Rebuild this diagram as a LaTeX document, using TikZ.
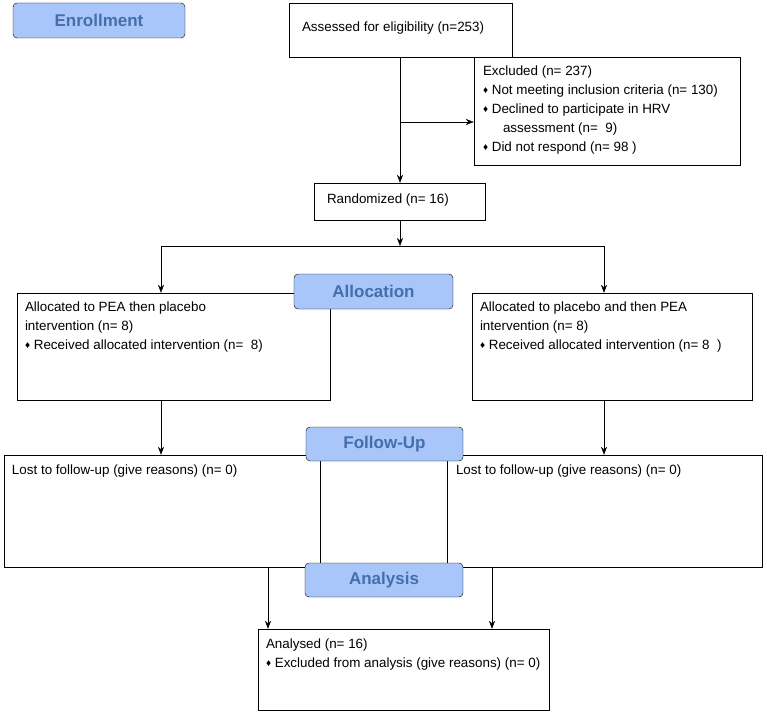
\documentclass[tikz,border=0pt]{standalone}
\usepackage{fontspec}
\setmainfont{Liberation Sans}
\usetikzlibrary{arrows.meta,calc}
\definecolor{stagefill}{RGB}{168,198,250}
\definecolor{stagetext}{RGB}{70,110,170}
\newcommand{\dia}{{\fontsize{10}{10}\selectfont\raisebox{1pt}{♦}}\ }

\begin{document}
\begin{tikzpicture}
  [
    x=1pt, y=-1pt,
    box/.style =
      {draw, rectangle, inner sep=0pt},
    txt/.style =
      {anchor=north west, align=left, inner sep=0pt, font=\fontsize{13.4}{19}\selectfont},
    stage/.style =
      {draw, rounded corners=4pt, fill=stagefill, inner sep=0pt,
       font=\fontsize{17}{19}\selectfont\bfseries, text=stagetext},
    arr/.style =
      {-{Stealth[length=8pt,width=6pt]}}
  ]

\useasboundingbox (0,0) rectangle (767,714);

% stage labels
\node[stage, minimum width=172pt, minimum height=35pt] (enrol) at (99,20.5) {Enrollment};

% boxes
\node[box, minimum width=223pt, minimum height=54pt] (assess) at (400.5,30) {};
\node[txt] (assesst) at ($(assess.west)+(13,-8)$) {Assessed for eligibility (n=253)};

\node[box, minimum width=266pt, minimum height=108pt] (excl) at (607,111) {};
\node[txt] (exclt) at ($(excl.north west)+(9,9)$)
  {Excluded (n= 237)\\
   \dia Not meeting inclusion criteria (n= 130)\\
   \dia Declined to participate in HRV\\
   \hspace*{20pt}assessment (n=~ 9)\\
   \dia Did not respond (n= 98 )};

\node[box, minimum width=171pt, minimum height=37pt] (rand) at (399.5,201.5) {};
\node[txt] (randt) at ($(rand.west)+(13,-8)$) {Randomized (n= 16)};

\node[box, minimum width=313pt, minimum height=107pt] (allocl) at (173.5,346.5) {};
\node[txt] (alloclt) at ($(allocl.north west)+(8,9)$)
  {Allocated to PEA then placebo\\
   intervention (n= 8)\\
   \dia Received allocated intervention (n=~ 8)};

\node[box, minimum width=280pt, minimum height=107pt] (allocr) at (612,346.5) {};
\node[txt] (allocrt) at ($(allocr.north west)+(8,9)$)
  {Allocated to placebo and then PEA\\
   intervention (n= 8)\\
   \dia Received allocated intervention (n= 8~ )};

\node[box, minimum width=316pt, minimum height=112pt] (lostl) at (162,511) {};
\node[txt] (lostlt) at ($(lostl.north west)+(8,10)$) {Lost to follow-up (give reasons) (n= 0)};

\node[box, minimum width=315pt, minimum height=112pt] (lostr) at (604.5,511) {};
\node[txt] (lostrt) at ($(lostr.north west)+(9,10)$) {Lost to follow-up (give reasons) (n= 0)};

\node[box, minimum width=291pt, minimum height=81pt] (anal) at (403.5,669.5) {};
\node[txt] (analt) at ($(anal.north west)+(8,10)$)
  {Analysed (n= 16)\\
   \dia Excluded from analysis (give reasons) (n= 0)};

\node[stage, minimum width=159pt, minimum height=35pt] (alloc) at (373.5,291.5) {Allocation};
\node[stage, minimum width=157pt, minimum height=34pt] (follow) at (384.5,444) {Follow-Up};
\node[stage, minimum width=158pt, minimum height=34pt] (analy) at (384,580) {Analysis};

% connectors
\coordinate (split) at (400,122);
\coordinate (fork) at (400,246);
\draw[arr] (assess.south -| split) -- (rand.north -| split);
\draw[arr] (split) -- (split -| excl.west);
\draw[arr] (rand.south -| fork) -- (fork);
\draw (161,246) -- (604,246);
\draw[arr] (161,246) -- (allocl.north -| 161,0);
\draw[arr] (604,246) -- (allocr.north -| 604,0);
\draw[arr] (allocl.south -| 161,0) -- (lostl.north -| 161,0);
\draw[arr] (allocr.south -| 604,0) -- (lostr.north -| 604,0);
\draw[arr] (lostl.south -| 268,0) -- (anal.north -| 268,0);
\draw[arr] (lostr.south -| 492,0) -- (anal.north -| 492,0);
\end{tikzpicture}
\end{document}
